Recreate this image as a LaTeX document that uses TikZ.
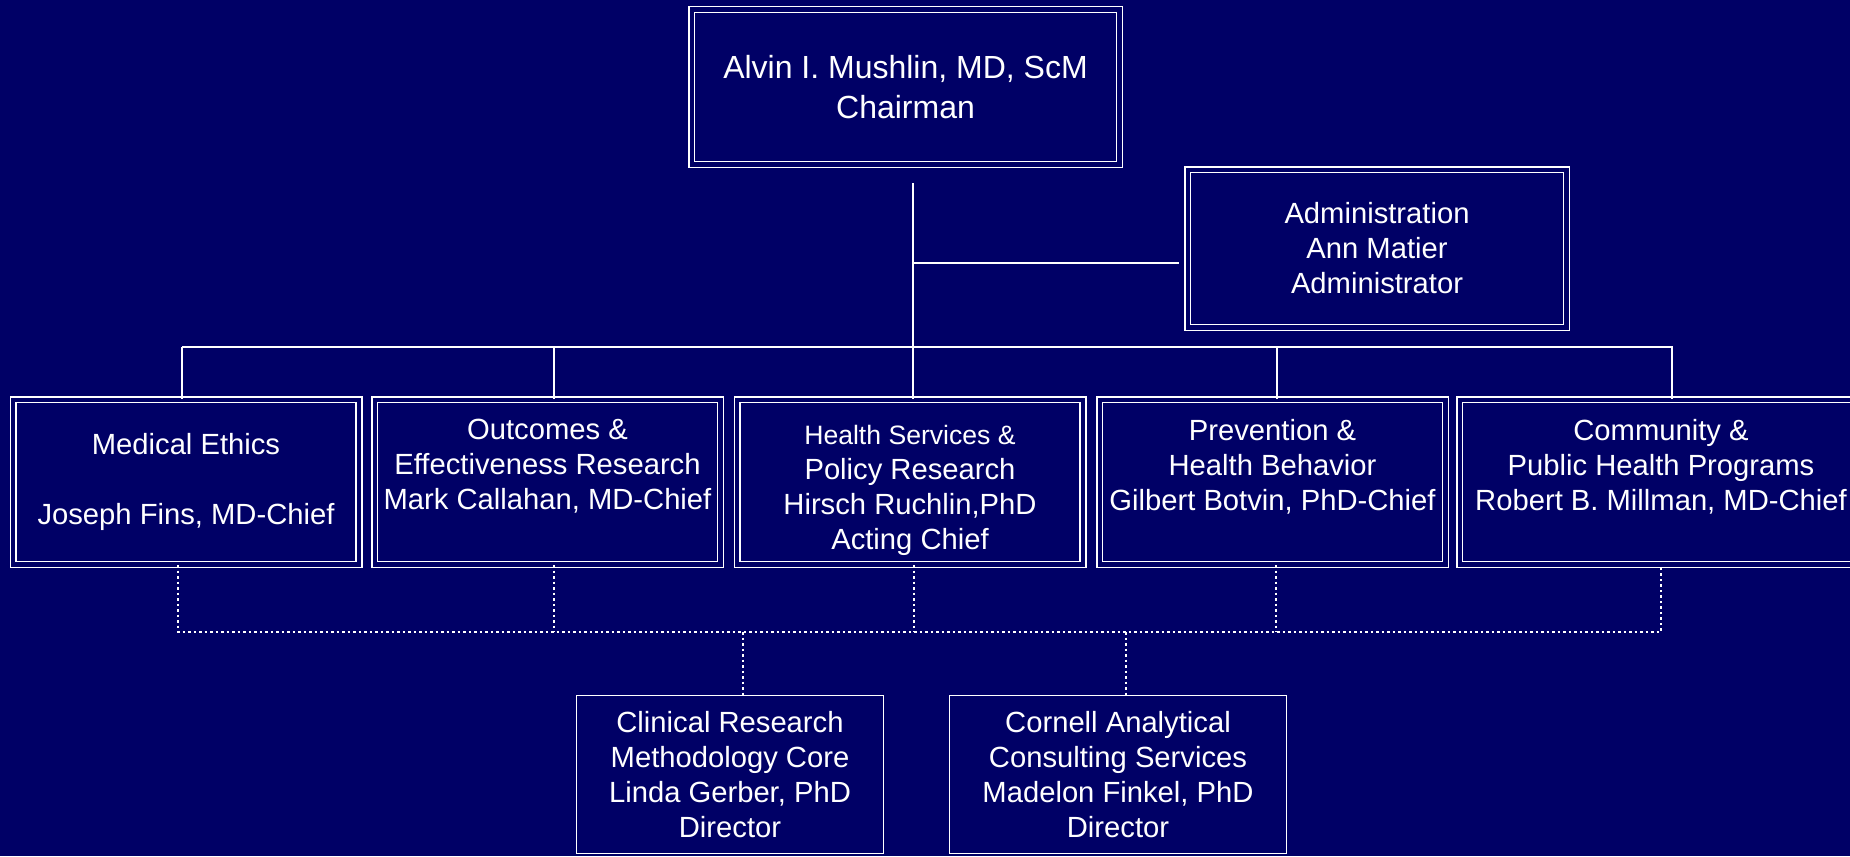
\documentclass[tikz,border=0pt]{standalone}
\usepackage{fontspec}
\setmainfont{Liberation Sans}
\usepackage{tikz}
\definecolor{chart_bg}{RGB}{0,0,102}
\tikzset{
    chartbox/.style = {align=center, inner sep=2pt, text centered, text=white, font=\fontsize{14.6}{17.5}\selectfont},
    box_double/.style = {chartbox, rectangle, draw=white, line width=0.75pt, double=chart_bg, double distance=2.2pt, minimum width=172.8pt, minimum height=82.3pt},
    box_top/.style = {box_double, font=\fontsize{16}{20}\selectfont, minimum width=213.8pt, minimum height=77.3pt},
    box_admin/.style = {box_double, minimum width=189.3pt, minimum height=78.8pt},
    box_core/.style = {chartbox, rectangle, draw=white, line width=0.75pt, minimum height=79pt},
    line_solid/.style = {draw=white, line width=0.65pt},
    line_dot/.style = {draw=white, line width=1.35pt, dash pattern=on 1.35pt off 1.4pt}
}
\begin{document}
\begin{tikzpicture}[x=0.5pt, y=-0.5pt]
    \fill [chart_bg] (0,0) rectangle (1850,856);
    \useasboundingbox (0,0) rectangle (1850,856);
    \node [box_top] (chair) at (905.5,87) {Alvin I. Mushlin, MD, ScM\\Chairman}; % CHAIR
    \node [box_admin] (admin) at (1377,248.5) {Administration\\Ann Matier\\Administrator};
    % divisions
    \node [box_double] (med) at (186,482) {Medical Ethics\\~\\Joseph Fins, MD-Chief};
    \node [box_double] (outc) at (547.5,482) {Outcomes \&\\Effectiveness Research\\Mark Callahan, MD-Chief\\~};
    \node [box_double] (hsr) at (910,482) {{\fontsize{13.3}{17.5}\selectfont\rule{0pt}{17.7pt}Health Services \&}\\Policy Research\\Hirsch Ruchlin,PhD\\Acting Chief};
    \node [box_double] (prev) at (1272.5,482) {Prevention \&\\Health Behavior\\Gilbert Botvin, PhD-Chief\\~};
    \node [box_double, minimum width=201.3pt] (comm) at (1661,482) {Community \&\\Public Health Programs\\Robert B. Millman, MD-Chief\\~};
    % cores
    \node [box_core, minimum width=153.3pt] (clin) at (730,774.5) {Clinical Research\\Methodology Core\\Linda Gerber, PhD\\Director};
    \node [box_core, minimum width=168.3pt] (cacs) at (1118,774.5) {Cornell Analytical\\Consulting Services\\Madelon Finkel, PhD\\Director};

    \coordinate (trunk) at (913,183);
    \coordinate (hub) at (913,263);
    \coordinate (bus) at (913,347);
    \coordinate (dbus) at (913,632);
    \draw [line_solid] (trunk) -- (trunk |- hsr.north);
    \draw [line_solid] (hub) -- ([xshift=-4pt]hub -| admin.west);
    \draw [line_solid] ([xshift=-2pt]med.north |- bus) -- ([xshift=5.5pt]comm.north |- bus) -- ([xshift=5.5pt]comm.north);
    \foreach \n/\dx in {med/-2pt,outc/3.25pt,prev/2.25pt}
        \draw [line_solid] ([xshift=\dx]\n.north |- bus) -- ([xshift=\dx]\n.north);
    % dotted links
    \draw [line_dot] ([xshift=-4pt]med.south) |- (dbus -| comm.south) -- (comm.south);
    \foreach \n/\dx in {outc/3.25pt,hsr/2pt,prev/1.75pt}
        \draw [line_dot] ([xshift=\dx]\n.south) -- ([xshift=\dx]\n.south |- dbus);
    \draw [line_dot] ([xshift=6.5pt]clin.north |- dbus) -- ([xshift=6.5pt]clin.north);
    \draw [line_dot] ([xshift=4pt]cacs.north |- dbus) -- ([xshift=4pt]cacs.north);
\end{tikzpicture}
\end{document}
